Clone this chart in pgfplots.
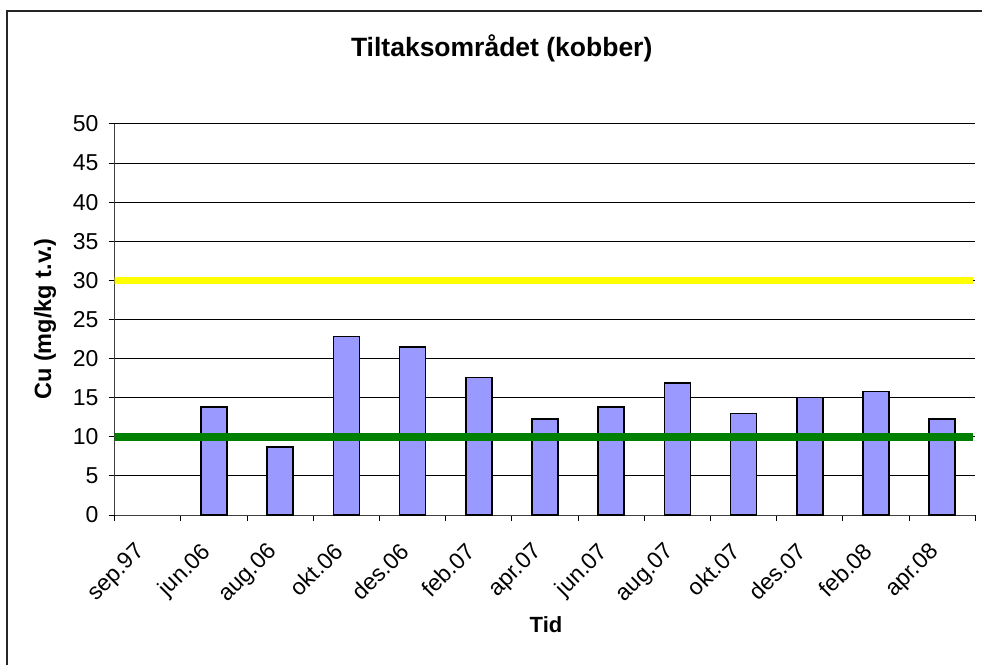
\documentclass[border=0pt]{standalone}
\usepackage{fontspec}
\setmainfont{Liberation Sans}
\usepackage{pgfplots}
\pgfplotsset{compat=1.18}

\definecolor{barfill}{HTML}{9999FF}
\definecolor{limgreen}{HTML}{008000}
\definecolor{limyellow}{HTML}{FFFF00}

\begin{document}
\begin{tikzpicture}
% page = 982 x 664 px, 1px = 1pt, axis origin at px (114.7,515)
\path[use as bounding box] (-114.7pt,-149pt) rectangle (867.3pt,515pt);
\draw[black!85,line width=2pt] (-107.7pt,-160pt) -- (-107.7pt,504pt) -- (880pt,504pt);
\begin{axis}[
  at={(0pt,0pt)},anchor=origin,
  scale only axis,width=860.6pt,height=391pt,
  font=\fontsize{23}{27}\selectfont,
  /pgf/number format/assume math mode=true,
  axis x line=bottom,axis y line=left,
  axis line style={black!75,line width=1pt,-},
  xmin=0,xmax=13,ymin=0,ymax=50,
  xtick={0,...,13},
  xticklabels={sep.97,jun.06,aug.06,okt.06,des.06,feb.07,apr.07,jun.07,aug.07,okt.07,des.07,feb.08,apr.08,{}},
  ytick={0,5,...,50},
  ymajorgrids,grid style={black,line width=1pt},
  tick align=outside,major tick length=6pt,
  tick style={black,line width=1pt},
  xticklabel style={inner sep=0pt,xshift=19pt,yshift=-20pt,rotate=45,anchor=north east},
  yticklabel style={inner sep=0pt,anchor=east,xshift=-10pt},
]
\addplot[ybar,bar width=26pt,fill=barfill,draw=black,line width=1.5pt] coordinates {
  (1.5,13.8) (2.5,8.7) (3.5,22.8) (4.5,21.5) (5.5,17.6) (6.5,12.3)
  (7.5,13.8) (8.5,16.9) (9.5,13.0) (10.5,15.0) (11.5,15.8) (12.5,12.3)};
\addplot[limyellow,line width=7.5pt] coordinates {(-0.03,30) (12.96,30)};
\addplot[limgreen,line width=7.5pt] coordinates {(-0.03,10) (12.96,10)};
\end{axis}
\node[font=\fontsize{26.5}{30}\selectfont\bfseries] at (387pt,467pt) {Tiltaksområdet (kobber)};
\node[font=\fontsize{23.5}{27}\selectfont\bfseries,rotate=90] at (-69.7pt,196pt) {Cu (mg/kg t.v.)};
\node[font=\fontsize{22}{26}\selectfont\bfseries] at (431.3pt,-110pt) {Tid};
\end{tikzpicture}
\end{document}
